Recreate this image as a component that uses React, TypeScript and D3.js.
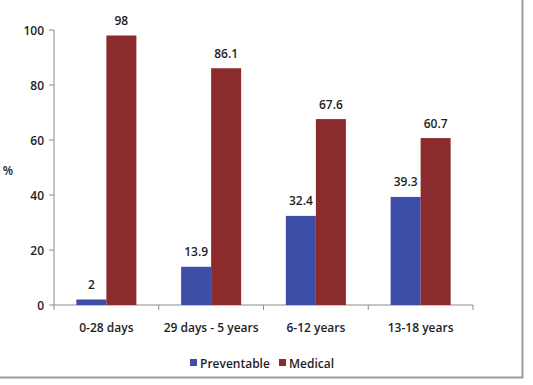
import * as d3 from "d3";

const categories = ["0-28 days", "29 days - 5 years", "6-12 years", "13-18 years"];
const seriesNames = ["Preventable", "Medical"];
const preventable = [2, 13.9, 32.4, 39.3];
const medical = [98, 86.1, 67.6, 60.7];
const yTicks = [0, 20, 40, 60, 80, 100];

const colors = ["#3c4ea8", "#8b2b2e"];
const font = "'Open Sans', sans-serif";
const textColor = "#1e1e1e";

export default function App() {
  const width = 533;
  const height = 385;
  const left = 54;
  const right = 473;
  const top = 30;
  const bottom = 305;

  const x = d3
    .scaleBand<string>()
    .domain(categories)
    .range([left, right])
    .paddingInner(0.427)
    .paddingOuter(0.2135);
  const xs = d3.scaleBand<string>().domain(seriesNames).range([0, x.bandwidth()]);
  const y = d3.scaleLinear().domain([0, 100]).range([bottom, top]);

  const values = [preventable, medical];
  const step = x.step();
  const boundaries = d3.range(categories.length + 1).map((i) => left + i * step);

  return (
    <svg
      width={width}
      height={height}
      style={{ position: "absolute", left: 0, top: 0, background: "#fff" }}
      fontFamily={font}
    >
      {/* frame shadow lines */}
      <line x1={0} x2={523} y1={377.5} y2={377.5} stroke="#9a9a9a" strokeWidth={2} />
      <line x1={522.5} x2={522.5} y1={0} y2={378} stroke="#9a9a9a" strokeWidth={2} />

      {/* y axis */}
      <line x1={left} x2={left} y1={top} y2={bottom} stroke="#8c8c8c" />
      {yTicks.map((t) => (
        <g key={t}>
          <line x1={left - 5} x2={left} y1={y(t)} y2={y(t)} stroke="#8c8c8c" />
          <text
            x={left - 10}
            y={y(t)}
            textAnchor="end"
            dominantBaseline="central"
            fontSize={12}
            fontWeight={600}
            fill={textColor}
          >
            {t}
          </text>
        </g>
      ))}
      <text x={8} y={170} textAnchor="middle" dominantBaseline="central" fontSize={12} fontWeight={600} fill={textColor}>
        %
      </text>

      {/* x axis */}
      <line x1={left} x2={right} y1={bottom} y2={bottom} stroke="#8c8c8c" />
      {boundaries.map((b, i) => (
        <line key={i} x1={b} x2={b} y1={bottom} y2={bottom + 5} stroke="#8c8c8c" />
      ))}
      {categories.map((c) => (
        <text
          key={c}
          x={(x(c) ?? 0) + x.bandwidth() / 2}
          y={327}
          textAnchor="middle"
          dominantBaseline="central"
          fontSize={12}
          fontWeight={600}
          fill={textColor}
        >
          {c}
        </text>
      ))}

      {/* bars */}
      {seriesNames.map((s, si) =>
        categories.map((c, ci) => {
          const v = values[si][ci];
          const bx = (x(c) ?? 0) + (xs(s) ?? 0);
          return (
            <g key={s + c}>
              <rect x={bx} y={y(v)} width={xs.bandwidth()} height={bottom - y(v)} fill={colors[si]} />
              <text
                x={bx + xs.bandwidth() / 2}
                y={y(v) - 15}
                textAnchor="middle"
                dominantBaseline="central"
                fontSize={12}
                fontWeight={600}
                fill={textColor}
              >
                {v}
              </text>
            </g>
          );
        })
      )}

      {/* legend */}
      <rect x={190} y={359} width={7} height={7} fill={colors[0]} />
      <text x={200} y={363} dominantBaseline="central" fontSize={12} fontWeight={600} fill={textColor}>
        {seriesNames[0]}
      </text>
      <rect x={279} y={359} width={7} height={7} fill={colors[1]} />
      <text x={289} y={363} dominantBaseline="central" fontSize={12} fontWeight={600} fill={textColor}>
        {seriesNames[1]}
      </text>
    </svg>
  );
}
